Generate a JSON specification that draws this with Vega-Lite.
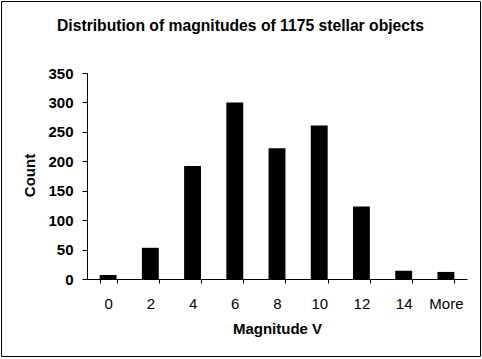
{
  "$schema": "https://vega.github.io/schema/vega-lite/v6.json",
  "width": 479,
  "height": 355,
  "autosize": {"type": "none"},
  "padding": {"left": 1, "top": 1, "right": 2, "bottom": 3},
  "background": "white",
  "title": {
    "text": "Distribution of magnitudes of 1175 stellar objects",
    "font": "Liberation Sans",
    "fontSize": 15.7,
    "fontWeight": "bold",
    "color": "black",
    "baseline": "alphabetic",
    "offset": -46,
    "frame": "group",
    "anchor": "middle"
  },
  "data": {
    "values": [
      {"magnitude": "0", "count": 7},
      {"magnitude": "2", "count": 53},
      {"magnitude": "4", "count": 192},
      {"magnitude": "6", "count": 300},
      {"magnitude": "8", "count": 222},
      {"magnitude": "10", "count": 261},
      {"magnitude": "12", "count": 123},
      {"magnitude": "14", "count": 14},
      {"magnitude": "More", "count": 12}
    ]
  },
  "mark": {"type": "bar", "color": "black"},
  "encoding": {
    "x": {
      "field": "magnitude",
      "type": "ordinal",
      "sort": null,
      "scale": {"range": [86, 466], "paddingInner": 0.6, "paddingOuter": 0.3},
      "axis": {
        "orient": "bottom",
        "offset": -77,
        "title": "Magnitude V",
        "titleFont": "Liberation Sans",
        "titleFontSize": 15,
        "titleFontWeight": "bold",
        "titleColor": "black",
        "titleX": 276,
        "titleY": 42.6,
        "titleBaseline": "top",
        "titleAlign": "center",
        "labelFont": "Liberation Sans",
        "labelFontSize": 15,
        "labelColor": "black",
        "labelAngle": 0,
        "labelPadding": 13,
        "tickSize": 4,
        "tickColor": "black",
        "domainColor": "black",
        "tickBand": "extent",
        "grid": false
      }
    },
    "y": {
      "field": "count",
      "type": "quantitative",
      "scale": {"domain": [0, 350], "range": [278, 72], "nice": false},
      "axis": {
        "orient": "left",
        "offset": -86,
        "values": [0, 50, 100, 150, 200, 250, 300, 350],
        "title": "Count",
        "titleFont": "Liberation Sans",
        "titleFontSize": 15,
        "titleFontWeight": "bold",
        "titleColor": "black",
        "titleX": -53,
        "titleY": 174,
        "titleAngle": -90,
        "titleBaseline": "alphabetic",
        "titleAlign": "center",
        "labelFont": "Liberation Sans",
        "labelFontSize": 15,
        "labelFontWeight": "bold",
        "labelColor": "black",
        "labelPadding": 9,
        "tickSize": 5,
        "tickColor": "black",
        "domainColor": "black",
        "grid": false
      }
    }
  },
  "config": {"view": {"stroke": "black", "strokeWidth": 1}}
}
